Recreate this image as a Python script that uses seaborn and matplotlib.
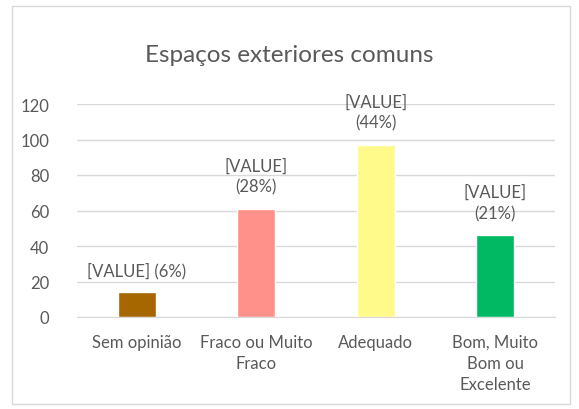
import matplotlib
matplotlib.use("Agg")
import matplotlib.pyplot as plt
import seaborn as sns
import pandas as pd
from matplotlib.patches import Rectangle

categories = ["Sem opinião", "Fraco ou Muito\nFraco", "Adequado", "Bom, Muito\nBom ou\nExcelente"]
values = [14, 61, 97, 46]
labels = ["[VALUE] (6%)", "[VALUE]\n(28%)", "[VALUE]\n(44%)", "[VALUE]\n(21%)"]
colors = ["#A66600", "#FF918A", "#FFFA8A", "#00B962"]
yticks = [0, 20, 40, 60, 80, 100, 120]

sns.set_style("white")
plt.rcParams["font.family"] = ["Lato", "DejaVu Sans"]

df = pd.DataFrame({"cat": categories, "val": values})

fig = plt.figure(figsize=(5.79, 4.10), dpi=100)
ax = fig.add_axes([77 / 579, 1 - 318 / 410, (555 - 77) / 579, (318 - 105) / 410])

sns.barplot(data=df, x="cat", y="val", hue="cat", palette=colors, legend=False,
            width=0.32, saturation=1, ax=ax)

ax.set_ylim(0, 120)
ax.set_yticks(yticks)
ax.grid(axis="y", color="#D9D9D9", linewidth=1)
ax.set_axisbelow(True)
for s in ["top", "right", "left"]:
    ax.spines[s].set_visible(False)
ax.spines["bottom"].set_color("#D9D9D9")
ax.tick_params(axis="both", length=0, colors="#595959", labelsize=12)
ax.tick_params(axis="y", pad=20)
ax.tick_params(axis="x", pad=12)
for t in ax.get_xticklabels():
    t.set_linespacing(1.4)
ax.set_xlabel("")
ax.set_ylabel("")

for i, (v, lab) in enumerate(zip(values, labels)):
    ax.annotate(lab, (i, v), xytext=(0, 10), textcoords="offset points",
                ha="center", va="bottom", fontsize=12, color="#595959",
                linespacing=1.4)

fig.text(0.5, 1 - 55 / 410, "Espaços exteriores comuns", ha="center", va="center",
         fontsize=17.5, color="#595959")

fig.patches.append(Rectangle((12 / 579, 0.012), (570 - 12) / 579, 0.97,
                             transform=fig.transFigure, fill=False,
                             edgecolor="#D9D9D9", linewidth=1))

fig.savefig("out.png", dpi=100)
